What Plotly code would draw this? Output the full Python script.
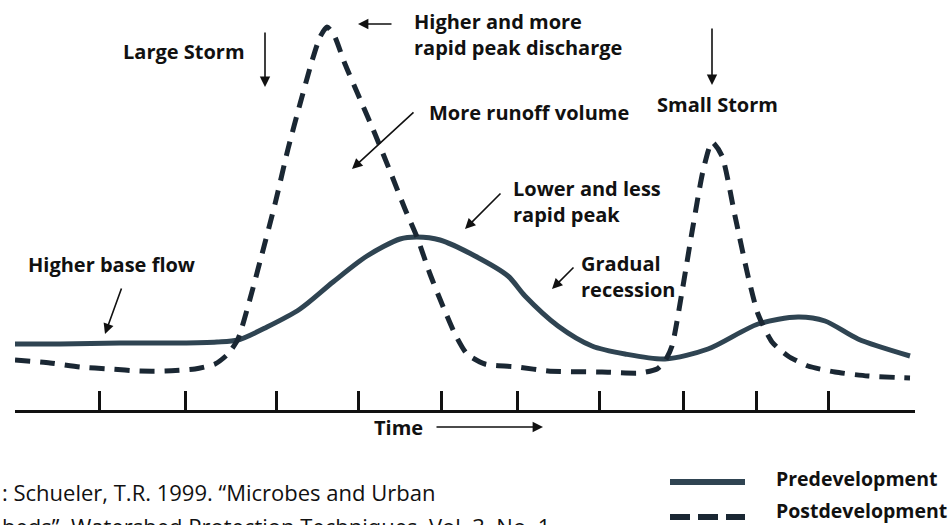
import plotly.graph_objects as go

# ---------------- data ----------------
# time position along the axis, discharge above the time axis
pre_time = [15, 60, 120, 180, 217, 238, 267, 300, 333, 367, 400, 417, 440, 475,
            508, 525, 558, 592, 625, 665, 708, 758, 798, 825, 858, 910]
pre_flow = [66, 66, 67, 67, 68, 70, 83, 101, 128, 154, 171, 173, 170, 154,
            134, 114, 84, 64, 56, 51, 61, 86, 93, 89, 71, 54]

post_time = [15, 50, 80, 110, 140, 165, 195, 215, 228, 238, 250, 262, 275, 288,
             300, 312, 320, 327, 334, 345, 360, 375, 390, 405, 417, 430, 442,
             455, 467, 485, 518, 548, 602, 640, 657, 665, 672, 682, 692, 703,
             712, 722, 735, 748, 758, 772, 788, 808, 835, 868, 910]
post_flow = [50, 47, 43, 41, 39, 39, 41, 46, 56, 71, 111, 156, 206, 261,
             306, 349, 373, 383, 375, 346, 311, 276, 239, 201, 173, 136, 106,
             76, 56, 46, 43, 39, 38, 37, 41, 49, 64, 118, 178, 239,
             268, 254, 194, 134, 96, 68, 54, 44, 38, 34, 32]

tick_times = [15, 99, 185, 276, 358, 441, 517, 599, 683, 756, 828, 914]

series_names = ["Predevelopment", "Postdevelopment"]

# labels: (text, time, flow, anchor)
labels = [
    ("Large Storm", 247, 359, "right"),
    ("Higher and more<br>rapid peak discharge", 412, 376, "left"),
    ("More runoff volume", 427, 298, "left"),
    ("Lower and less<br>rapid peak", 511, 209, "left"),
    ("Small Storm", 717, 306, "center"),
    ("Gradual<br>recession", 579, 134, "left"),
    ("Higher base flow", 26, 146, "left"),
]

# arrows: (tail time, tail flow, head time, head flow)
arrows = [
    (265, 379, 265, 323),
    (393, 386, 358, 386),
    (415, 299, 352, 241),
    (502, 218, 465, 181),
    (575, 144, 552, 121),
    (712, 383, 712, 325),
    (122, 123, 105, 76),
]

citation = [": Schueler, T.R. 1999. \u201cMicrobes and Urban",
            "heds\u201d. Watershed Protection Techniques, Vol. 3, No. 1"]

# ---------------- figure ----------------
W, H = 950, 525
AXIS_Y = 410  # pixel row of the time axis

solid_col = "#2f4452"
dash_col = "#1a2733"
bold_font = dict(family="Open Sans", size=20, color="#111111", weight="bold")

fig = go.Figure()
fig.add_trace(go.Scatter(x=pre_time, y=pre_flow, mode="lines", name=series_names[0],
                         line=dict(color=solid_col, width=5, shape="spline", smoothing=0.8),
                         showlegend=False))
fig.add_trace(go.Scatter(x=post_time, y=post_flow, mode="lines", name=series_names[1],
                         line=dict(color=dash_col, width=5, dash="15px,10px",
                                   shape="spline", smoothing=0.6),
                         showlegend=False))

annotations = []
for txt, t, q, anc in labels:
    annotations.append(dict(text=txt, x=t, y=q, xref="x", yref="y", xanchor=anc,
                            yanchor="middle", align="left", showarrow=False,
                            font=bold_font))
for tx, tq, hx, hq in arrows:
    annotations.append(dict(text="", x=hx, y=hq, ax=tx, ay=tq, xref="x", yref="y",
                            axref="x", ayref="y", showarrow=True, arrowhead=2,
                            arrowsize=1.3, arrowwidth=1.6, arrowcolor="#111111",
                            standoff=0, startstandoff=0))

# Time label and arrow under the axis
annotations.append(dict(text="Time", x=372, y=(H - 427) / H, xref="x", yref="paper",
                        xanchor="left", yanchor="middle", showarrow=False,
                        font=bold_font))
annotations.append(dict(text="", x=543, y=(H - 427) / H, xref="x", yref="paper",
                        ax=-108, ay=0, axref="pixel", ayref="pixel", showarrow=True,
                        arrowhead=2, arrowsize=1.3, arrowwidth=1.6, arrowcolor="#111111",
                        standoff=0))

# citation text
for i, line in enumerate(citation):
    annotations.append(dict(text=line, x=0, y=(H - [492, 526][i]) / H, xref="paper",
                            yref="paper", xanchor="left", yanchor="middle", showarrow=False,
                            font=dict(family="Open Sans", size=22, color="#111111")))

# legend (manual)
shapes = []
leg_rows = [(482, solid_col, "solid"), (517, dash_col, "20px,8px")]
for i, (py, col, dsh) in enumerate(leg_rows):
    shapes.append(dict(type="line", xref="paper", yref="paper",
                       x0=670 / W, x1=745 / W, y0=(H - py) / H, y1=(H - py) / H,
                       line=dict(color=col, width=6, dash=dsh)))
    annotations.append(dict(text=series_names[i], x=774 / W, y=(H - [478, 510][i]) / H,
                            xref="paper", yref="paper", xanchor="left", yanchor="middle",
                            showarrow=False,
                            font=dict(family="Open Sans", size=19.5, color="#111111",
                                      weight="bold")))

fig.update_layout(
    width=W, height=H,
    margin=dict(l=0, r=0, t=0, b=0),
    paper_bgcolor="white", plot_bgcolor="white",
    annotations=annotations, shapes=shapes,
    showlegend=False,
    xaxis=dict(range=[15, 915], domain=[15 / W, 915 / W], showgrid=False, zeroline=False,
               showline=True, linecolor="#111111", linewidth=3,
               tickmode="array", tickvals=tick_times, ticks="inside", ticklen=19,
               tickwidth=2.5, tickcolor="#111111", showticklabels=False, fixedrange=True),
    yaxis=dict(range=[0, AXIS_Y], domain=[(H - AXIS_Y) / H, 1], showgrid=False,
               zeroline=False, showline=False, showticklabels=False, ticks="",
               fixedrange=True),
)

fig.write_html("out.html", config={"displayModeBar": False},
               post_script="document.body.style.margin='0';document.body.style.overflow='hidden';")
